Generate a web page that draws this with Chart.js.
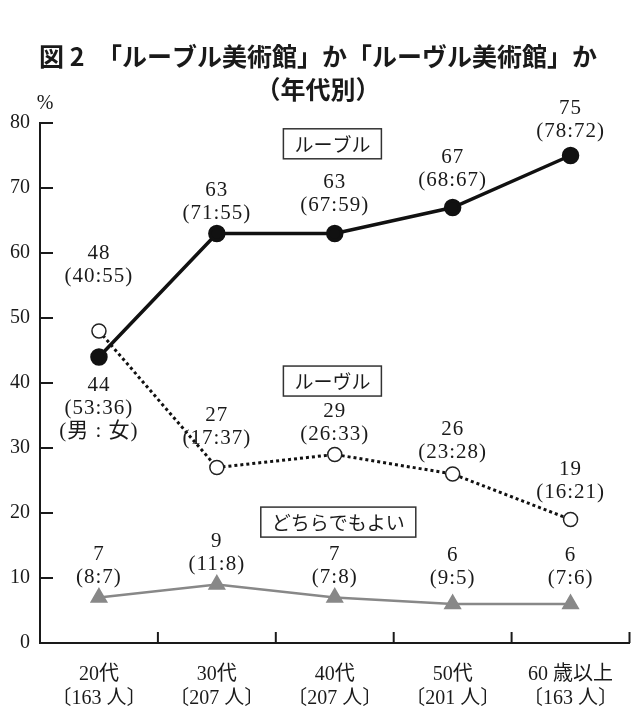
<!DOCTYPE html>
<html><head><meta charset="utf-8">
<script src="https://cdn.jsdelivr.net/npm/chart.js@4.4.1/dist/chart.umd.min.js"></script>
<style>html,body{margin:0;padding:0;background:#fff}#wrap{width:640px;height:712px}</style>
</head><body><div id="wrap"><canvas id="c" width="640" height="712"></canvas></div>
<script>
const categories = [["20代","〔163 人〕"],["30代","〔207 人〕"],["40代","〔207 人〕"],["50代","〔201 人〕"],["60 歳以上","〔163 人〕"]];
const seriesNames = ["ルーブル","ルーヴル","どちらでもよい"];
const rubleValues = [44, 63, 63, 67, 75];
const rubleMale   = [53, 71, 67, 68, 78];
const rubleFemale = [36, 55, 59, 67, 72];
const louvreValues = [48, 27, 29, 26, 19];
const louvreMale   = [40, 17, 26, 23, 16];
const louvreFemale = [55, 37, 33, 28, 21];
const eitherValues = [7, 9, 7, 6, 6];
const eitherMale   = [8, 11, 7, 9, 7];
const eitherFemale = [7, 8, 8, 5, 6];
const yTicks = [0,10,20,30,40,50,60,70,80];
const titleLines = ["図 2　「ルーブル美術館」か「ルーヴル美術館」か","（年代別）"];

function mkLabels(v, m, f){ return v.map((x,i)=>[String(x), "("+m[i]+":"+f[i]+")"]); }
const rubleLabels = mkLabels(rubleValues, rubleMale, rubleFemale);
rubleLabels[0].push("(男 : 女)");
const louvreLabels = mkLabels(louvreValues, louvreMale, louvreFemale);
const eitherLabels = mkLabels(eitherValues, eitherMale, eitherFemale);

// style: gap between point and label (negative = below)
const labelGap = [[-28,20,28,27,24],[55,29,20,22,27],[20,20,20,26,26]];
const serif = '"Liberation Serif","Noto Sans CJK JP",serif';
const ink = '#1a1a1a';

const decor = {
  id:'decor',
  afterDraw(chart){
    const ctx = chart.ctx, xs = chart.scales.x, ys = chart.scales.y, ca = chart.chartArea;
    ctx.save();
    // title
    ctx.fillStyle = ink; ctx.textAlign='center'; ctx.textBaseline='middle';
    ctx.font = 'bold 25px "Noto Sans CJK JP"';
    ctx.fillText(titleLines[0], 318, 56);
    ctx.fillText(titleLines[1], 318, 89);
    ctx.font = '20px ' + serif;
    ctx.fillText('%', 45, 104);
    // inner ticks
    ctx.strokeStyle = ink; ctx.lineWidth = 2;
    yTicks.forEach(t=>{ if(t===0) return; const y = ys.getPixelForValue(t);
      ctx.beginPath(); ctx.moveTo(ca.left, y); ctx.lineTo(ca.left+13, y); ctx.stroke(); });
    for(let i=0;i<categories.length;i++){
      const x = (xs.getPixelForValue(i)+ (i<categories.length-1? xs.getPixelForValue(i+1) : xs.getPixelForValue(i)*2 - xs.getPixelForValue(i-1)))/2;
      ctx.beginPath(); ctx.moveTo(x, ca.bottom); ctx.lineTo(x, ca.bottom-11); ctx.stroke();
    }
    // data labels
    ctx.font = '21px ' + serif; ctx.fillStyle = ink;
    try { ctx.letterSpacing = '1px'; } catch(e) {}
    const all = [rubleLabels, louvreLabels, eitherLabels];
    const lh = 23;
    all.forEach((labs, di)=>{
      const meta = chart.getDatasetMeta(di);
      labs.forEach((lines, i)=>{
        const pt = meta.data[i]; const g = labelGap[di][i];
        lines.forEach((ln, k)=>{
          let y;
          if(g<0) y = pt.y - g + k*lh;
          else y = pt.y - g - (lines.length-1-k)*lh;
          ctx.fillText(ln, pt.x, y);
        });
      });
    });
    try { ctx.letterSpacing = '0px'; } catch(e) {}
    // legend boxes
    const boxes = [[seriesNames[0], 1.98, 76.8],[seriesNames[1], 1.98, 40.3],[seriesNames[2], 2.03, 18.6]];
    ctx.font = '19px "Noto Sans CJK JP"';
    boxes.forEach(([t, xi, yv])=>{
      const x0 = xs.getPixelForValue(0), x1 = xs.getPixelForValue(1);
      const cx = x0 + (x1-x0)*xi, cy = ys.getPixelForValue(yv);
      const w = ctx.measureText(t).width + 22, h = 30;
      ctx.fillStyle='#fff'; ctx.fillRect(cx-w/2, cy-h/2, w, h);
      ctx.strokeStyle='#333'; ctx.lineWidth=1.5; ctx.strokeRect(cx-w/2, cy-h/2, w, h);
      ctx.fillStyle=ink; ctx.fillText(t, cx, cy+1);
    });
    ctx.restore();
  }
};

new Chart(document.getElementById('c'), {
  type:'line',
  data:{
    labels: categories,
    datasets:[
      {label:seriesNames[0], data:rubleValues, borderColor:'#111', borderWidth:3.5, pointRadius:7, pointBackgroundColor:'#111', pointBorderColor:'#111', tension:0},
      {label:seriesNames[1], data:louvreValues, borderColor:'#111', borderWidth:3, borderDash:[3,3], pointRadius:7, pointBackgroundColor:'#fff', pointBorderColor:'#222', pointBorderWidth:1.5, tension:0},
      {label:seriesNames[2], data:eitherValues, borderColor:'#888', borderWidth:2.5, pointStyle:'triangle', pointRadius:8, pointBackgroundColor:'#888', pointBorderColor:'#888', tension:0}
    ]
  },
  options:{
    responsive:false, animation:false, devicePixelRatio:1,
    layout:{padding:{top:123, right:10, left:0, bottom:0}},
    plugins:{legend:{display:false}, tooltip:{enabled:false}, title:{display:false}},
    scales:{
      x:{offset:true, grid:{display:false, drawTicks:false}, border:{color:ink, width:2},
         ticks:{color:ink, font:{family:serif, size:20}, padding:20},
         afterFit(s){ s.height = 69; }},
      y:{min:0, max:80, grid:{display:false, drawTicks:false}, border:{color:ink, width:2},
         ticks:{stepSize:10, color:ink, font:{family:serif, size:20}, padding:10},
         afterFit(s){ s.width = 40; }}
    }
  },
  plugins:[decor]
});
</script></body></html>
